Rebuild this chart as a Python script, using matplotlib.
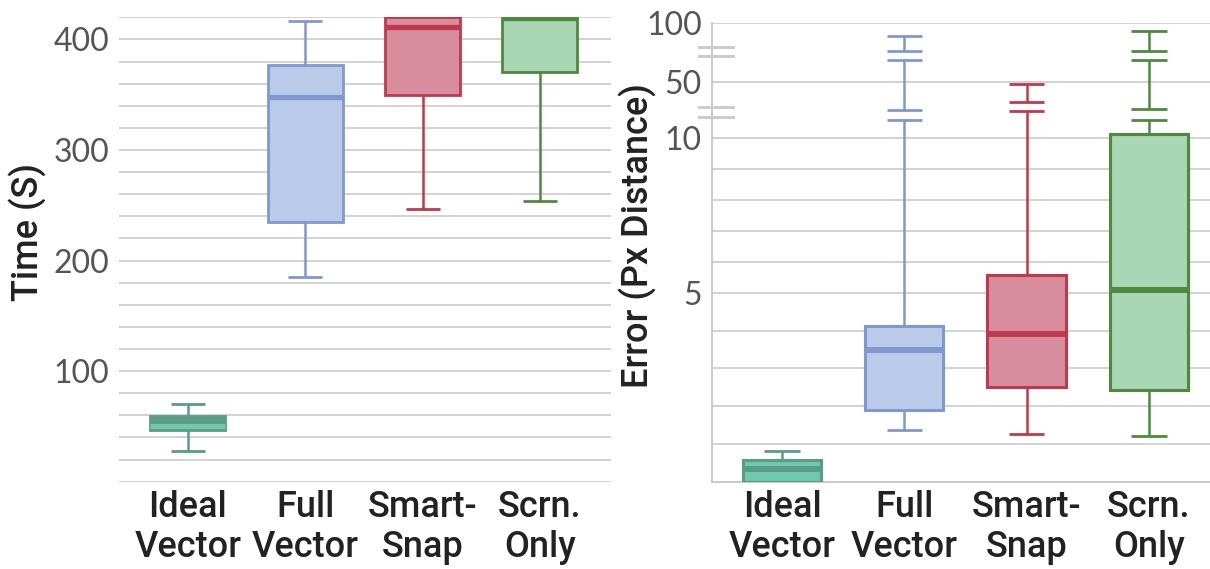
"""
Boxplots temps / erreur pour les 4 conditions
"""
import numpy as np
import matplotlib
matplotlib.use("Agg")
import matplotlib.pyplot as plt
from matplotlib.ticker import NullFormatter

# Donnees
categories = ["Ideal\nVector", "Full\nVector", "Smart-\nSnap", "Scrn.\nOnly"]

edge_colors = ["#5b9c86", "#7f98d0", "#c0394a", "#4e8a3e"]
fill_colors = ["#70c9ad", "#bacbea", "#d78d9e", "#a9d7b5"]

# Temps (s)
time_q1 = [46.7, 235.0, 349.4, 370.5]
time_med = [50.3, 347.8, 411.0, 419.0]
time_q3 = [59.4, 377.0, 420.0, 424.0]
time_lo = [27.5, 184.8, 246.9, 253.6]
time_hi = [70.3, 417.0, 420.0, 424.0]

# Erreur (px)
err_q1 = [0.0, 1.89, 2.50, 2.43]
err_med = [0.34, 3.49, 3.92, 5.10]
err_q3 = [0.57, 4.13, 5.59, 10.14]
err_lo = [0.0, 1.37, 1.25, 1.21]
err_hi = [0.80, 89.4, 47.3, 93.7]
# coupures dans les moustaches hautes
err_gaps = [[], [(10.6, 20.9), (68.3, 76.3)], [(19.6, 29.4)], [(10.6, 21.6), (68.6, 76.5)]]

# echelle brisee de l'axe erreur (lineaire par morceaux)
ERR_ANCH = np.array([0.0, 5.0, 10.6, 50.0, 100.0])
ERR_POS = np.array([0.0, 189.0, 362.0, 400.3, 458.7])


def err_forward(v):
    v = np.asarray(v, dtype=float)
    out = np.interp(v, ERR_ANCH, ERR_POS)
    s0 = (ERR_POS[1] - ERR_POS[0]) / (ERR_ANCH[1] - ERR_ANCH[0])
    s1 = (ERR_POS[-1] - ERR_POS[-2]) / (ERR_ANCH[-1] - ERR_ANCH[-2])
    out = np.where(v < ERR_ANCH[0], ERR_POS[0] + (v - ERR_ANCH[0]) * s0, out)
    out = np.where(v > ERR_ANCH[-1], ERR_POS[-1] + (v - ERR_ANCH[-1]) * s1, out)
    return out


def err_inverse(p):
    p = np.asarray(p, dtype=float)
    out = np.interp(p, ERR_POS, ERR_ANCH)
    s0 = (ERR_POS[1] - ERR_POS[0]) / (ERR_ANCH[1] - ERR_ANCH[0])
    s1 = (ERR_POS[-1] - ERR_POS[-2]) / (ERR_ANCH[-1] - ERR_ANCH[-2])
    out = np.where(p < ERR_POS[0], ERR_ANCH[0] + (p - ERR_POS[0]) / s0, out)
    out = np.where(p > ERR_POS[-1], ERR_ANCH[-1] + (p - ERR_POS[-1]) / s1, out)
    return out


GRID_COLOR = "#c6c6c6"
TICK_FONT = dict(family=["Lato", "DejaVu Sans"], size=23, color="#555555")
LABEL_FONT = dict(family=["Roboto", "DejaVu Sans"], weight="medium", color="#222222")
BOX_W = 0.64
CAP_W = 0.29


def draw_boxes(ax, q1, med, q3, lo, hi, gaps, fills, meds, box_lw, med_lw):
    x = np.arange(len(q1))
    stats = [dict(med=m, q1=a, q3=b, whislo=a, whishi=b, fliers=[])
             for a, m, b in zip(q1, med, q3)]
    art = ax.bxp(stats, positions=x, widths=BOX_W, patch_artist=True,
                 showcaps=False, showfliers=False,
                 whiskerprops=dict(linewidth=0))
    for i, box in enumerate(art["boxes"]):
        box.set_facecolor(fills[i])
        box.set_edgecolor(edge_colors[i])
        box.set_linewidth(box_lw)
        box.set_zorder(3)
        art["medians"][i].set_color(meds[i])
        art["medians"][i].set_linewidth(med_lw)
        art["medians"][i].set_solid_capstyle("butt")
        art["medians"][i].set_zorder(4)

    for i in range(len(q1)):
        c = edge_colors[i]
        # moustache basse
        if lo[i] < q1[i]:
            ax.vlines(x[i], lo[i], q1[i], color=c, lw=1.8, zorder=2)
            ax.hlines(lo[i], x[i] - CAP_W / 2, x[i] + CAP_W / 2, color=c, lw=2.0, zorder=2)
        # moustache haute (eventuellement coupee)
        if hi[i] > q3[i]:
            bounds = [q3[i]] + [v for g in gaps[i] for v in g] + [hi[i]]
            for k in range(0, len(bounds), 2):
                ax.vlines(x[i], bounds[k], bounds[k + 1], color=c, lw=1.8, zorder=2)
            for b in bounds[1:]:
                ax.hlines(b, x[i] - CAP_W / 2, x[i] + CAP_W / 2, color=c, lw=2.0, zorder=2)


fig = plt.figure(figsize=(12.1, 5.69), dpi=100)

# Temps
ax1 = fig.add_axes([0.0983, 0.1534, 0.4066, 0.8162])
draw_boxes(ax1, time_q1, time_med, time_q3, time_lo, time_hi, [[]] * 4,
           [edge_colors[0]] + fill_colors[1:], [fill_colors[0]] + edge_colors[1:],
           box_lw=2.0, med_lw=3.8)
ax1.set_ylim(0, 420)
ax1.set_xlim(-0.588, 3.606)
ax1.set_yticks([100, 200, 300, 400])
ax1.set_yticks(np.arange(0, 421, 20), minor=True)
ax1.yaxis.set_minor_formatter(NullFormatter())
ax1.grid(True, which="both", axis="y", color=GRID_COLOR, lw=1.1)
ax1.set_axisbelow(True)
for s in ax1.spines.values():
    s.set_visible(False)

# Erreur
ax2 = fig.add_axes([0.5882, 0.1534, 0.4118, 0.8056])
ax2.set_yscale("function", functions=(err_forward, err_inverse))
draw_boxes(ax2, err_q1, err_med, err_q3, err_lo, err_hi, err_gaps,
           fill_colors, edge_colors, box_lw=2.2, med_lw=4.3)
ax2.set_ylim(0, 100)
ax2.set_xlim(-0.575, 3.5)
ax2.set_yticks([5, 10, 50, 100])
ax2.set_yticklabels(["5", "10", "50", "100"])
ax2.set_yticks([1, 2, 3, 4, 6, 7, 8, 9], minor=True)
ax2.yaxis.set_minor_formatter(NullFormatter())
ax2.grid(True, which="both", axis="y", color=GRID_COLOR, lw=1.1)
ax2.set_axisbelow(True)
for side in ["top", "right"]:
    ax2.spines[side].set_visible(False)
for side in ["left", "bottom"]:
    ax2.spines[side].set_color(GRID_COLOR)
    ax2.spines[side].set_linewidth(1.3)

# marques de coupure de l'axe
for yb in [79.5, 72.0, 23.7, 14.0]:
    ax2.plot([-0.025, 0.043], [yb, yb], color="#cccccc", lw=2.2,
             transform=ax2.get_yaxis_transform(), clip_on=False, zorder=5)

for ax in (ax1, ax2):
    ax.set_xticks(range(len(categories)))
    ax.set_xticklabels(categories, fontsize=26, linespacing=1.2, **LABEL_FONT)
    ax.tick_params(axis="both", which="both", length=0)
    ax.tick_params(axis="x", pad=6)
    ax.tick_params(axis="y", pad=7)
    for lab in ax.get_yticklabels():
        lab.set_fontfamily(TICK_FONT["family"])
        lab.set_fontsize(TICK_FONT["size"])
        lab.set_color(TICK_FONT["color"])

fig.text(28 / 1210, 1 - 232 / 569, "Time (S)", rotation=90, ha="center",
         va="center", fontsize=26, **LABEL_FONT)
fig.text(638 / 1210, 1 - 236 / 569, "Error (Px Distance)", rotation=90,
         ha="center", va="center", fontsize=26, **LABEL_FONT)

fig.savefig("out.png", dpi=100)
